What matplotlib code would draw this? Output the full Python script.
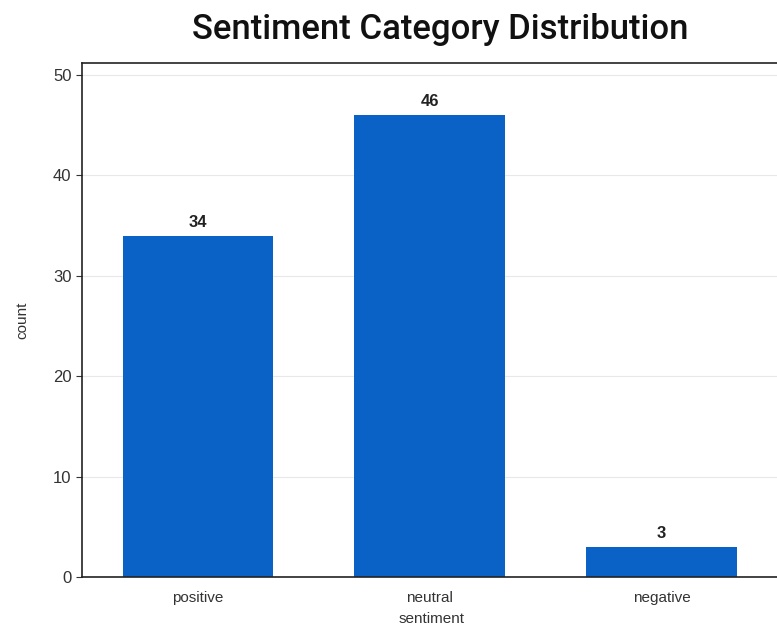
import matplotlib.pyplot as plt

categories = ["positive", "neutral", "negative"]
counts = [34, 46, 3]
yticks = [0, 10, 20, 30, 40, 50]

plt.rcParams['font.family'] = ['Liberation Sans', 'DejaVu Sans']

fig = plt.figure(figsize=(7.77, 6.33), dpi=100)
ax = fig.add_axes([82 / 777, 1 - 577 / 633, 700 / 777, (577 - 63) / 633])

x = range(len(categories))
bars = ax.bar(x, counts, width=0.65, color="#0b62c6", zorder=2)

for rect, val in zip(bars, counts):
    ax.text(rect.get_x() + rect.get_width() / 2, rect.get_height() + 0.6, str(val),
            ha="center", va="bottom", fontsize=12, fontweight="bold", color="#222222")

ax.set_xlim(-0.5, 2.52)
ax.set_ylim(0, 51.2)
ax.set_xticks(list(x))
ax.set_xticklabels(categories, fontsize=11, color="#333333")
ax.set_yticks(yticks)
ax.tick_params(axis="y", labelsize=12, colors="#333333", length=4)
ax.tick_params(axis="x", length=0, pad=10)
ax.grid(axis="y", color="#e8e8e8", linewidth=0.8, zorder=0)
ax.set_axisbelow(True)

for side in ["left", "top", "bottom"]:
    ax.spines[side].set_color("#222222")
    ax.spines[side].set_linewidth(1.2)
ax.spines["right"].set_visible(False)

ax.set_xlabel("sentiment", fontsize=11, color="#333333", labelpad=5)
ax.set_ylabel("count", fontsize=11, color="#333333", labelpad=17)
fig.text(440 / 777, 1 - 30 / 633, "Sentiment Category Distribution",
         ha="center", va="center", fontsize=25, fontweight="medium",
         family=["Roboto", "DejaVu Sans"], color="#111111")

fig.savefig("out.png", dpi=100)
